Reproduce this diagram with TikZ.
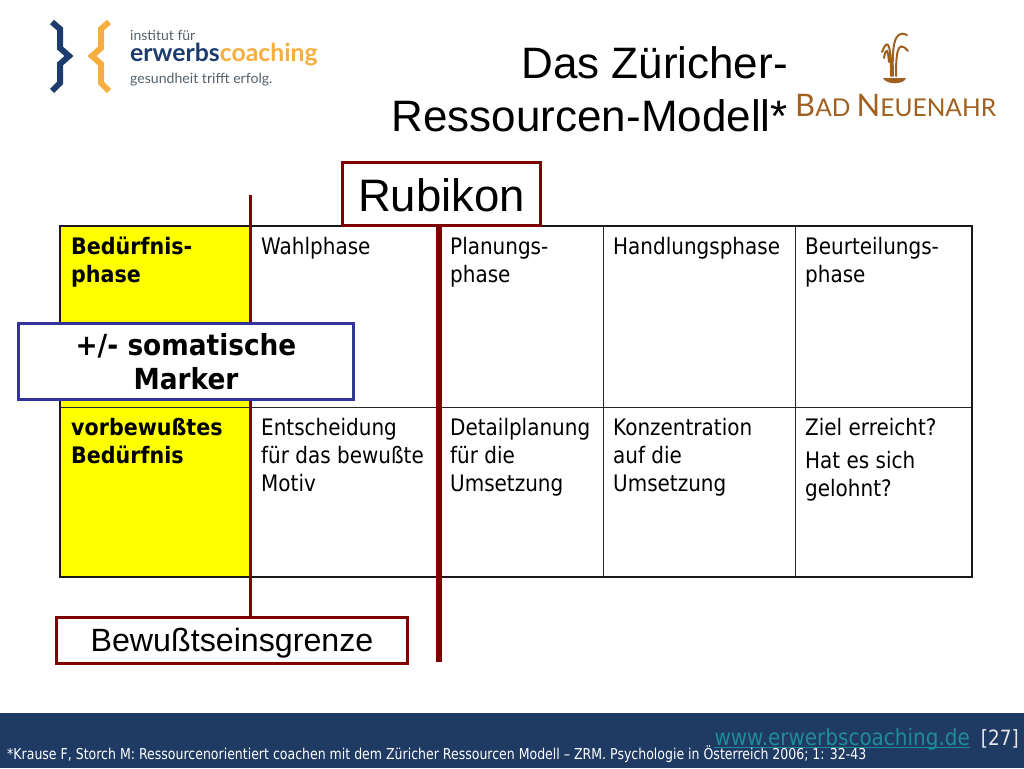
\documentclass[tikz,border=0pt]{standalone}
\usepackage{fontspec}
\setmainfont{Liberation Sans}
\newfontfamily\tablefont[FakeStretch=0.88, BoldFeatures={FakeStretch=0.91}]{DejaVu Sans}
\newfontfamily\footfont[FakeStretch=0.835]{DejaVu Sans}
\newfontfamily\logofont{Lato}
\usetikzlibrary{backgrounds}
\definecolor{rubikred}{HTML}{7F0000}
\definecolor{markerblue}{HTML}{333399}
\definecolor{barblue}{HTML}{1F3A63}
\definecolor{linkteal}{HTML}{1F8C96}
\definecolor{logoblue}{HTML}{1D3C6E}
\definecolor{logoorange}{HTML}{F5AE3F}
\definecolor{logogray}{HTML}{55606A}
\definecolor{spagold}{HTML}{A0601F}
\definecolor{cellyellow}{RGB}{255,255,0}
\tikzset{
    celltext/.style={anchor=north west, inner sep=0pt, align=left, text=black, font=\fontsize{22.7}{28}\tablefont},
    redbox/.style={draw=rubikred, line width=3pt, fill=white, inner sep=0pt},
    gridline/.style={draw=black!85, line width=1pt},
}
\begin{document}
\begin{tikzpicture}[x=1pt, y=-1pt]
    \useasboundingbox (0,0) rectangle (1024,768);
    % Title
    \node (title) [anchor=north east, inner sep=0pt, align=right, font=\fontsize{44}{53}\selectfont] at (788,46) {Das Züricher-\\Ressourcen-Modell*};
    % Boxes
    \node (rubikon) [redbox, minimum width=198pt, minimum height=63pt, text height=36pt, font=\fontsize{45.5}{50}\selectfont] at (441.5,193.5) {Rubikon};
    \node (marker) [draw=markerblue, line width=3pt, fill=white, minimum width=335pt, minimum height=76pt, inner sep=0pt, align=center, font=\fontsize{29}{34}\tablefont\bfseries] at (186,361.5) {+/- somatische\\Marker};
    \node (grenze) [redbox, minimum width=351pt, minimum height=46pt, text height=29pt, font=\fontsize{32.2}{36}\selectfont] at (232,640.5) {Bewußtseinsgrenze};
    % Table texts
    \node (head1) [celltext] at (71,237) {\bfseries Bedürfnis-\\\bfseries phase};
    \node (head2) [celltext] at (261,237) {Wahlphase};
    \node (head3) [celltext] at (450,237) {Planungs-\\phase};
    \node (head4) [celltext] at (613,237) {Handlungsphase};
    \node (head5) [celltext] at (805,237) {Beurteilungs-\\phase};
    \node (body1) [celltext] at (71,418) {\bfseries vorbewußtes\\\bfseries Bedürfnis};
    \node (body2) [celltext] at (261,418) {Entscheidung\\für das bewußte\\Motiv};
    \node (body3) [celltext] at (450,418) {Detailplanung\\für die\\Umsetzung};
    \node (body4) [celltext] at (613,418) {Konzentration\\auf die\\Umsetzung};
    \node (body5) [celltext] at (805,418) {Ziel erreicht?};
    \node (body6) [celltext] at (805,451) {Hat es sich\\gelohnt?};
    % Table and lines
    \coordinate (grenzetop) at (250,195);
    \coordinate (rubikonend) at (439,662);
    \begin{pgfonlayer}{background}
    \fill [cellyellow] (60,226) rectangle (250,577);
    \foreach \x in {250,439,603,795}
    {
    \draw [gridline] (\x,226) -- (\x,577);
    }
    \draw [gridline] (60,407) -- (972,407);
    \draw [black!90, line width=2pt] (60,226) rectangle (972,577);
    \draw [rubikred, line width=3pt] (grenzetop) -- (grenzetop |- grenze.north);
    \draw [rubikred, line width=6pt] (rubikonend |- rubikon.south) -- (rubikonend);
    \end{pgfonlayer}
    % Logo left
    \draw [logoblue, line width=6pt, miter limit=10] (52,22) -- (60,29) -- (60,48) -- (69,56) -- (60,64) -- (60,83) -- (52,91);
    \draw [logoorange, line width=6pt, miter limit=10] (109,22) -- (101,29) -- (101,48) -- (92,56) -- (101,64) -- (101,83) -- (109,91);
    \node (logoa) [anchor=base west, inner sep=0pt, text=logogray, font=\fontsize{14}{16}\logofont] at (130,41) {institut für};
    \node (logob) [anchor=base west, inner sep=0pt, font=\fontsize{24.8}{26}\logofont\bfseries] at (130,62) {\textcolor{logoblue}{erwerbs}\textcolor{logoorange}{coaching}};
    \node (logoc) [anchor=base west, inner sep=0pt, text=logogray, font=\fontsize{14.1}{16}\logofont] at (130,83) {gesundheit trifft erfolg.};
    % Logo right
    \draw [spagold, line width=2pt, line cap=round]
        (893,76) .. controls (892,50) and (893,28) .. (907,35)
        (896,76) .. controls (896,55) and (897,38) .. (908,51)
        (891,76) .. controls (891,50) and (889,34) .. (882,52)
        (889,62) .. controls (888,50) and (886,46) .. (884,58);
    \fill [spagold] (883,78) -- (906,78) .. controls (904,85) and (886,85) .. (883,78);
    \node (spa) [anchor=base west, inner sep=0pt, text=spagold, font=\fontsize{31}{34}\logofont] at (795,116) {B\fontsize{24.5}{34}\selectfont AD \fontsize{31}{34}\selectfont N\fontsize{24.5}{34}\selectfont EUENAHR};
    % Footer
    \fill [barblue] (0,713) rectangle (1024,768);
    \node (page) [anchor=base east, inner sep=0pt, text=black!10!white, font=\fontsize{21}{24}\tablefont] at (1019,745) {[27]};
    \node (link) [anchor=base east, inner sep=0pt, text=linkteal, font=\fontsize{22.7}{24}\tablefont] at (970,745) {www.erwerbscoaching.de};
    \draw [linkteal, line width=1pt] ([yshift=-2pt]link.base west) -- ([yshift=-2pt]link.base east);
    \node (source) [anchor=base west, inner sep=0pt, text=white, font=\fontsize{15}{16}\footfont] at (7,759) {*Krause F, Storch M: Ressourcenorientiert coachen mit dem Züricher Ressourcen Modell – ZRM. Psychologie in Österreich 2006; 1: 32-43};
\end{tikzpicture}
\end{document}
